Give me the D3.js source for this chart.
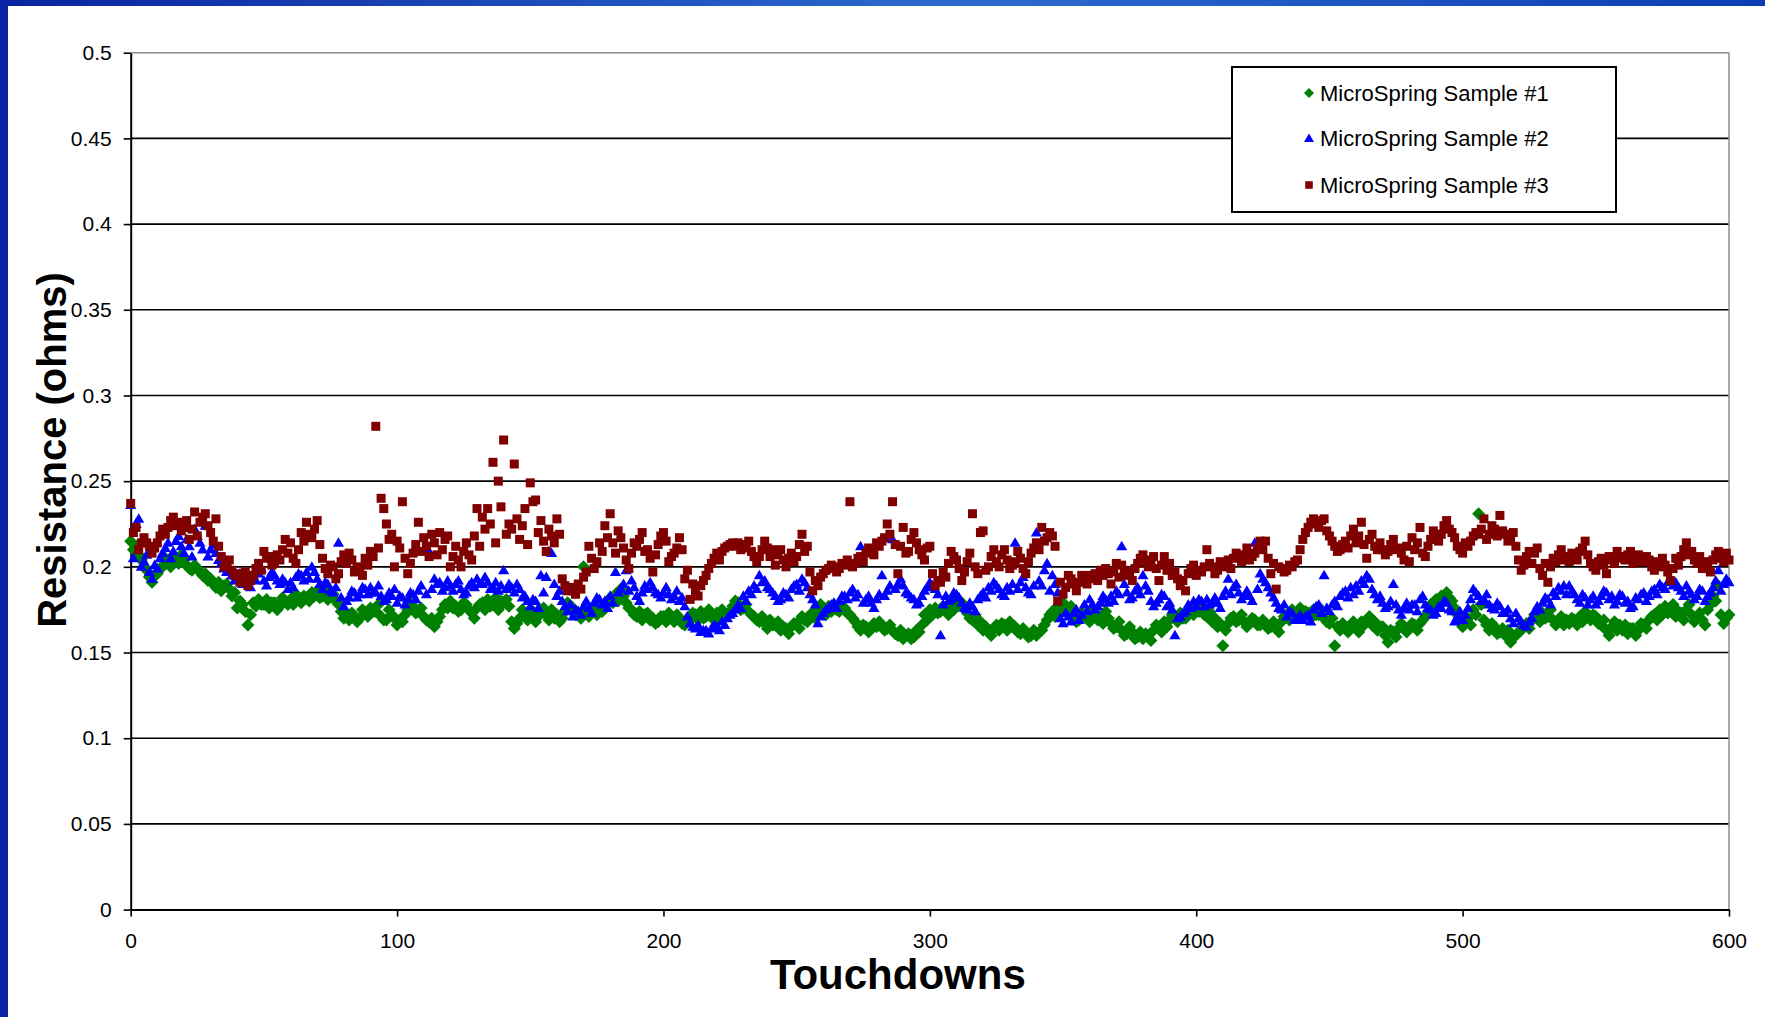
<!DOCTYPE html>
<html lang="en">
<head>
<meta charset="utf-8">
<title>MicroSpring resistance vs touchdowns</title>
<script src="https://cdn.jsdelivr.net/npm/d3@7"></script>
<style>
  html, body { margin: 0; padding: 0; background: #fff; }
  svg { display: block; font-family: "Liberation Sans", Arial, sans-serif; }
</style>
</head>
<body>
<script>
// touchdown number of every reading: 0..600
var touchdowns = d3.range(0, 601);

// resistance readings in milliohms, one line = 20 touchdowns
var sample1 = [
  215,210,212,207,204,200,198,194,191,195,196,199,200,205,203,200,206,204,202,207,
  204,201,199,198,201,199,197,195,196,192,193,190,188,191,186,189,190,187,183,185,
  176,180,178,174,166,172,179,177,181,178,178,181,176,179,179,175,177,182,180,178,
  181,178,184,181,179,183,182,180,185,183,186,182,183,187,181,185,184,180,178,174,
  170,172,169,173,171,168,170,175,173,171,176,174,174,178,171,169,169,175,172,170,
  166,169,168,172,175,179,177,173,174,176,171,169,168,170,165,168,171,175,178,176,
  180,176,177,174,175,179,178,175,173,170,176,178,179,175,181,177,178,182,175,180,
  179,181,177,168,164,167,170,175,173,169,171,174,168,171,174,176,172,169,175,170,
  172,168,170,174,179,177,176,172,173,170,200,174,171,176,175,172,178,174,177,180,
  182,179,184,180,187,183,179,176,175,172,171,174,169,172,173,169,170,167,168,171,
  171,168,173,170,168,172,170,167,166,170,169,173,172,169,174,170,171,175,173,169,
  173,170,175,171,172,174,177,180,179,175,176,178,174,172,171,169,168,171,167,164,
  169,166,166,168,163,165,164,161,165,167,167,164,171,169,168,172,173,170,175,178,
  175,172,177,174,178,175,174,177,176,173,172,170,168,165,163,166,165,162,164,167,
  165,168,166,163,164,166,163,161,160,163,158,160,161,158,159,163,162,166,172,169,
  175,172,176,173,174,177,175,172,178,175,181,178,179,176,173,170,169,172,166,168,
  163,165,162,160,164,166,163,167,166,163,168,165,165,162,161,164,162,159,160,163,
  160,162,163,166,169,172,174,171,177,175,179,176,174,177,171,168,169,173,172,170,
  168,175,172,169,171,167,174,170,167,164,165,168,163,160,161,165,162,158,159,162,
  158,161,160,157,163,166,165,162,168,165,169,172,171,168,173,170,170,174,175,172,
  177,174,175,172,171,174,168,170,165,167,154,163,167,170,171,168,169,172,168,165,
  167,170,169,166,166,169,167,164,165,168,164,162,168,171,172,169,175,172,173,176,
  171,174,173,170,175,172,172,175,170,168,167,170,154,165,163,167,165,162,164,168,
  165,162,168,166,169,171,166,168,163,165,165,160,156,163,162,159,164,167,165,162,
  164,167,166,163,167,169,171,174,178,175,181,179,183,180,185,182,180,176,172,168,
  165,168,170,166,175,172,231,178,169,166,163,167,165,161,162,164,160,163,156,159,
  160,162,163,165,167,164,169,172,171,168,173,170,171,175,169,166,168,171,166,169,
  167,170,169,166,171,168,174,171,169,172,171,167,166,169,163,160,165,168,163,166,
  163,166,161,164,164,160,163,167,166,164,169,171,172,169,175,172,177,173,174,178,
  171,174,173,169,175,178,172,168,170,173,169,166,175,178,183,180,189,172,167,170,172
];
var sample2 = [
  236,205,225,228,200,203,207,197,193,201,199,205,208,211,214,205,209,215,218,212,
  208,216,212,206,222,218,214,210,224,206,210,213,208,204,202,199,197,200,195,192,
  193,196,190,194,191,188,195,192,196,199,192,189,194,197,195,192,190,193,191,187,
  191,188,194,196,195,192,197,193,200,197,193,190,187,191,190,186,185,188,214,182,
  177,180,182,186,185,182,184,188,187,184,188,185,185,189,183,180,181,185,183,187,
  179,183,182,178,181,185,184,181,186,189,210,184,209,187,193,190,191,186,188,192,
  189,186,190,192,187,184,185,189,191,188,193,190,190,194,191,187,188,191,186,189,
  198,187,190,188,185,190,187,182,183,180,177,181,180,176,195,185,194,209,208,190,
  183,186,180,177,174,178,171,175,174,172,177,180,176,173,179,182,181,178,180,176,
  183,179,197,185,187,190,198,186,192,188,183,180,185,189,187,191,188,185,184,182,
  185,188,184,181,183,186,180,182,177,171,167,165,164,166,162,163,163,161,164,166,
  165,163,168,166,170,172,173,175,178,176,183,180,186,184,189,187,195,191,192,188,
  187,185,183,180,181,185,184,182,187,189,190,186,193,191,188,184,181,178,167,171,
  173,175,176,178,179,176,180,183,183,181,185,187,182,184,212,179,181,183,179,176,
  181,184,195,183,186,189,216,187,190,193,189,185,184,182,181,178,179,183,186,188,
  191,189,187,184,160,178,183,180,181,185,184,182,179,176,175,179,177,174,181,183,
  185,182,188,186,191,189,187,184,183,188,186,190,214,187,191,194,188,185,184,189,
  220,192,189,198,202,186,195,190,185,170,167,173,171,168,173,175,169,172,178,174,
  181,178,175,177,179,183,181,179,183,180,186,184,212,190,185,181,182,186,188,184,
  195,189,186,180,177,179,181,184,183,177,179,175,160,170,171,173,174,178,176,180,
  177,181,180,177,181,178,179,182,179,176,183,186,193,184,188,190,185,181,183,186,
  183,180,214,187,196,193,191,188,185,182,179,176,175,178,171,174,173,169,170,172,
  169,171,172,168,175,177,178,173,195,176,174,178,180,177,183,185,186,182,188,184,
  189,186,192,190,195,193,187,184,181,183,179,176,177,180,190,178,175,172,176,179,
  175,178,178,174,181,183,178,176,175,172,173,177,176,180,179,175,174,168,171,174,
  169,172,176,181,187,185,183,180,181,184,178,176,175,179,177,173,173,175,170,167,
  173,170,168,166,165,168,170,174,177,175,179,182,181,178,185,183,188,186,189,184,
  189,186,184,181,179,184,182,178,181,183,178,180,183,186,185,181,183,178,180,184,
  183,179,180,176,177,182,181,184,185,180,183,186,187,184,190,188,187,191,193,189,
  191,188,186,183,189,186,184,181,183,187,186,180,183,185,188,192,198,186,190,193,191
];
var sample3 = [
  237,220,223,210,214,217,214,212,208,211,214,218,222,219,223,227,229,224,226,221,
  223,227,216,222,232,218,226,229,231,224,220,215,228,212,206,200,203,204,198,195,
  196,191,193,197,189,192,195,199,202,198,209,205,206,201,202,207,204,210,216,208,
  214,205,202,210,220,215,226,219,217,222,227,213,205,199,196,201,200,193,196,203,
  207,202,208,204,197,199,200,195,205,201,209,206,282,211,240,234,225,216,219,200,
  215,211,238,205,196,202,208,213,226,209,217,212,206,219,214,207,220,210,216,218,
  200,206,212,204,200,209,214,207,204,218,234,212,229,222,234,225,261,214,250,235,
  274,219,225,222,260,228,216,224,234,213,249,238,239,220,227,215,209,222,218,214,
  228,219,193,189,186,188,186,184,190,187,194,197,212,205,199,203,214,209,224,217,
  231,214,208,221,217,211,204,199,208,214,212,216,220,209,210,205,197,207,213,218,
  220,215,203,206,208,211,217,210,193,198,181,190,186,183,189,192,195,199,202,205,
  208,204,209,211,212,213,214,212,214,210,211,213,215,209,206,203,206,210,215,211,
  206,210,201,207,210,204,200,205,208,203,206,213,219,209,212,197,186,192,189,194,
  196,198,199,201,200,197,199,202,201,204,238,200,202,205,206,203,208,211,210,207,
  214,212,215,217,225,219,238,213,196,212,223,208,209,216,220,214,210,207,204,211,
  212,196,189,192,191,197,194,202,209,206,204,199,192,197,203,208,231,200,196,220,
  221,198,200,206,210,203,200,207,210,204,199,201,203,209,205,199,196,203,208,211,
  214,210,223,215,217,220,218,212,180,191,184,188,195,193,190,186,191,195,193,190,
  195,193,196,192,198,195,199,196,190,197,202,194,201,198,195,197,192,199,202,205,
  207,203,200,204,206,199,192,201,206,198,202,195,197,193,189,192,186,196,199,201,
  195,198,197,200,210,202,200,196,198,203,200,201,204,199,205,208,206,203,207,211,
  204,206,208,211,215,210,215,205,196,202,187,200,199,197,198,201,200,203,204,210,
  216,220,223,226,228,225,223,227,228,221,218,215,212,209,210,213,215,211,218,222,
  214,218,226,213,205,216,219,212,210,214,210,207,209,213,216,210,211,208,204,212,
  203,217,210,214,223,208,206,212,216,221,219,215,219,224,227,222,220,217,212,210,
  208,214,212,215,218,220,219,222,228,216,219,224,222,218,230,221,219,215,217,220,
  212,204,198,201,206,209,202,208,211,199,195,202,191,200,205,203,207,210,204,206,
  203,208,206,204,209,211,215,207,202,200,198,203,205,201,196,206,204,202,209,205,
  206,204,207,209,202,205,207,203,203,206,204,200,198,203,200,205,201,197,192,199,
  205,201,206,210,214,207,209,204,202,206,199,203,200,197,204,207,209,205,203,208,204
];

var seriesNames = ["MicroSpring Sample #1", "MicroSpring Sample #2", "MicroSpring Sample #3"];
var seriesColors = ["#008000", "#0000ff", "#800000"];
var yTickValues = [0, 0.05, 0.1, 0.15, 0.2, 0.25, 0.3, 0.35, 0.4, 0.45, 0.5];
var xTickValues = [0, 100, 200, 300, 400, 500, 600];

var w = 1765, h = 1017;
var plotLeft = 130.7, plotRight = 1729, plotTop = 52.7, plotBottom = 909.6;

var svg = d3.select("body").append("svg")
  .attr("width", w)
  .attr("height", h);

// slide frame: blue gradient bar on top, dark bar on the left
var defs = svg.append("defs");
var grad = defs.append("linearGradient").attr("id", "topbar")
  .attr("x1", "0%").attr("x2", "100%");
grad.append("stop").attr("offset", "0%").attr("stop-color", "#0a24a0");
grad.append("stop").attr("offset", "55%").attr("stop-color", "#2c6ccf");
grad.append("stop").attr("offset", "100%").attr("stop-color", "#0d3cb4");
svg.append("rect").attr("x", 0).attr("y", 0).attr("width", w).attr("height", 6)
  .attr("fill", "url(#topbar)");
svg.append("rect").attr("x", 0).attr("y", 0).attr("width", 8).attr("height", h)
  .attr("fill", "#0a22a4");

var xScale = d3.scaleLinear().domain([0, 600]).range([plotLeft, plotRight]);
var yScale = d3.scaleLinear().domain([0, 0.5]).range([plotBottom, plotTop]);

// gridlines
svg.append("g").selectAll("line")
  .data(yTickValues.filter(function(d) { return d > 0; }))
  .enter().append("line")
  .attr("x1", plotLeft).attr("x2", plotRight)
  .attr("y1", function(d) { return yScale(d); })
  .attr("y2", function(d) { return yScale(d); })
  .attr("stroke", function(d) { return d === 0.5 ? "#8c8c8c" : "#000"; })
  .attr("stroke-width", function(d) { return d === 0.5 ? 1.5 : 1.6; });

// right border of plot area
svg.append("line")
  .attr("x1", plotRight).attr("x2", plotRight).attr("y1", plotTop).attr("y2", plotBottom)
  .attr("stroke", "#8c8c8c").attr("stroke-width", 1.5);

// axes
var yAxis = d3.axisLeft(yScale)
  .tickValues(yTickValues)
  .tickFormat(function(d) { return String(d); })
  .tickSize(7).tickSizeOuter(0).tickPadding(12);
var xAxis = d3.axisBottom(xScale)
  .tickValues(xTickValues)
  .tickSize(7).tickSizeOuter(0).tickPadding(16);

var gy = svg.append("g")
  .attr("transform", "translate(" + plotLeft + ",0)")
  .call(yAxis);
var gx = svg.append("g")
  .attr("transform", "translate(0," + plotBottom + ")")
  .call(xAxis);

[gx, gy].forEach(function(g) {
  g.select(".domain").attr("stroke", "#000").attr("stroke-width", 2);
  g.selectAll(".tick line").attr("stroke", "#000").attr("stroke-width", 1.6);
  g.selectAll(".tick text")
    .attr("fill", "#000")
    .style("font-size", "21px")
    .style("font-family", "'Liberation Sans', Arial, sans-serif");
});

// markers
var shapes = [
  function(s) { return "M0," + (-s) + "L" + s + ",0L0," + s + "L" + (-s) + ",0Z"; },
  function(s) { return "M0," + (-s) + "L" + s + "," + (s * 0.7) + "L" + (-s) + "," + (s * 0.7) + "Z"; },
  function(s) { return "M" + (-s) + "," + (-s) + "h" + (2 * s) + "v" + (2 * s) + "h" + (-2 * s) + "Z"; }
];
var sizes = [6.5, 5.6, 4.5];
var allSeries = [sample1, sample2, sample3];

allSeries.forEach(function(values, k) {
  svg.append("g").selectAll("path")
    .data(values)
    .enter().append("path")
    .attr("transform", function(d, i) {
      return "translate(" + xScale(touchdowns[i]) + "," + yScale(d / 1000) + ")";
    })
    .attr("d", shapes[k](sizes[k]))
    .attr("fill", seriesColors[k]);
});

// legend
var legend = svg.append("g");
legend.append("rect")
  .attr("x", 1232).attr("y", 67).attr("width", 384).attr("height", 145)
  .attr("fill", "#fff").attr("stroke", "#000").attr("stroke-width", 2);
var legendY = [93, 138.5, 185];
seriesNames.forEach(function(name, k) {
  legend.append("path")
    .attr("transform", "translate(1309," + legendY[k] + ")")
    .attr("d", shapes[k]([5, 5, 3.8][k]))
    .attr("fill", seriesColors[k]);
  legend.append("text")
    .attr("x", 1320).attr("y", legendY[k]).attr("dy", "0.36em")
    .style("font-size", "22px")
    .attr("fill", "#000")
    .text(name);
});

// axis titles
svg.append("text")
  .attr("x", (plotLeft + plotRight) / 2 - 32).attr("y", 989)
  .attr("text-anchor", "middle")
  .style("font-size", "42px").style("font-weight", "bold")
  .text("Touchdowns");
svg.append("text")
  .attr("transform", "translate(66,450) rotate(-90)")
  .attr("text-anchor", "middle")
  .style("font-size", "40px").style("font-weight", "bold")
  .text("Resistance (ohms)");
</script>
</body>
</html>
